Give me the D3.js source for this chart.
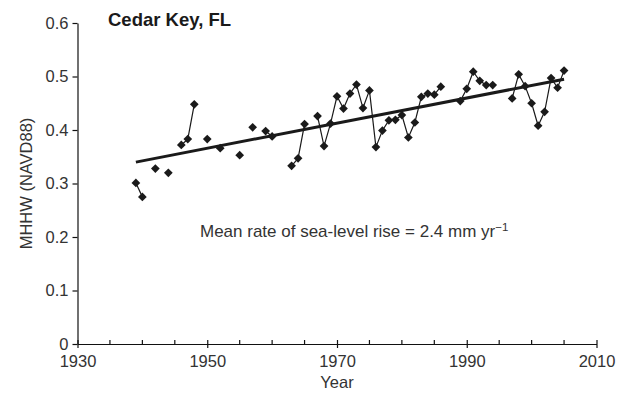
<!DOCTYPE html>
<html>
<head>
<meta charset="utf-8">
<script src="https://cdn.jsdelivr.net/npm/d3@7"></script>
<style>
  body { margin: 0; background: #fff; }
  svg { display: block; font-family: "Liberation Sans", Arial, sans-serif; }
  .axis path, .axis line { stroke: #111; stroke-width: 1.2; }
  .axis text { fill: #333; font-size: 16.5px; }
</style>
</head>
<body>
<svg width="626" height="400"></svg>
<script>
// MHHW observations, Cedar Key FL
const years = [1939, 1940, 1942, 1944, 1946, 1947, 1948, 1950, 1952, 1955,
  1957, 1959, 1960, 1963, 1964, 1965, 1967, 1968, 1969, 1970,
  1971, 1972, 1973, 1974, 1975, 1976, 1977, 1978, 1979, 1980,
  1981, 1982, 1983, 1984, 1985, 1986, 1989, 1990, 1991, 1992,
  1993, 1994, 1997, 1998, 1999, 2000, 2001, 2002, 2003, 2004, 2005]
const mhhw = [0.301, 0.275, 0.328, 0.320, 0.372, 0.383, 0.448, 0.383, 0.366, 0.353,
  0.405, 0.398, 0.388, 0.333, 0.347, 0.411, 0.426, 0.370, 0.412, 0.463,
  0.440, 0.468, 0.485, 0.441, 0.474, 0.368, 0.399, 0.418, 0.419, 0.428,
  0.386, 0.414, 0.462, 0.468, 0.466, 0.481, 0.454, 0.477, 0.509, 0.492,
  0.484, 0.484, 0.459, 0.504, 0.482, 0.450, 0.408, 0.434, 0.497, 0.479, 0.511]

// fitted trend line end points
const trendYears  = [1939, 2005]
const trendValues = [0.340, 0.495]

const xTicks      = [1930, 1950, 1970, 1990, 2010]
const xMinorTicks = d3.range(1935, 2010, 5).filter(d => !xTicks.includes(d))
const yTicks      = [0, 0.1, 0.2, 0.3, 0.4, 0.5, 0.6]

const svg = d3.select("svg")
const x = d3.scaleLinear().domain([1930, 2010]).range([77.5, 596.5])
const y = d3.scaleLinear().domain([0, 0.6]).range([344, 23])

const points = years.map((yr, i) => ({ year: yr, value: mhhw[i] }))

// axes
svg.append("g")
  .attr("class", "axis")
  .attr("transform", "translate(77.5,0)")
  .call(d3.axisLeft(y).tickValues(yTicks).tickSize(5).tickSizeOuter(0).tickPadding(4)
    .tickFormat(d => d === 0 ? "0" : d3.format(".1f")(d)))

const xAxis = svg.append("g")
  .attr("class", "axis")
  .attr("transform", "translate(0,344)")
  .call(d3.axisBottom(x).tickValues(xTicks).tickSize(4).tickSizeOuter(0).tickPadding(5)
    .tickFormat(d3.format("d")))
xAxis.selectAll(".tick line").attr("y1", -4)
xAxis.selectAll(".tick text").attr("dy", "0.85em")

svg.append("g")
  .selectAll("line")
  .data(xMinorTicks)
  .join("line")
  .attr("x1", d => x(d)).attr("x2", d => x(d))
  .attr("y1", 344).attr("y2", 340)
  .attr("stroke", "#111").attr("stroke-width", 1.2)

// axis titles
svg.append("text")
  .attr("x", (x.range()[0] + x.range()[1]) / 2)
  .attr("y", 388)
  .attr("text-anchor", "middle")
  .attr("fill", "#333")
  .attr("font-size", 16.5)
  .text("Year")

svg.append("text")
  .attr("transform", `translate(32,${(y.range()[0] + y.range()[1]) / 2}) rotate(-90)`)
  .attr("text-anchor", "middle")
  .attr("fill", "#333")
  .attr("font-size", 16.5)
  .text("MHHW (NAVD88)")

svg.append("text")
  .attr("x", 108)
  .attr("y", 26)
  .attr("fill", "#1a1a1a")
  .attr("font-size", 18.5)
  .attr("font-weight", "bold")
  .text("Cedar Key, FL")

const note = svg.append("text")
  .attr("x", 200)
  .attr("y", 237)
  .attr("fill", "#333")
  .attr("font-size", 17)
note.append("tspan").text("Mean rate of sea-level rise = 2.4 mm yr")
note.append("tspan").attr("dy", -6).attr("font-size", 11.5).text("\u22121")

// thin lines join consecutive years only
const line = d3.line()
  .x(d => x(d.year)).y(d => y(d.value))
let runs = [], cur = []
points.forEach((p, i) => {
  if (i > 0 && p.year - points[i - 1].year !== 1) { runs.push(cur); cur = [] }
  cur.push(p)
})
runs.push(cur)
svg.append("g")
  .selectAll("path")
  .data(runs.filter(r => r.length > 1))
  .join("path")
  .attr("d", line)
  .attr("fill", "none")
  .attr("stroke", "#1a1a1a")
  .attr("stroke-width", 1.2)

// trend
svg.append("path")
  .datum(trendYears.map((yr, i) => ({ year: yr, value: trendValues[i] })))
  .attr("d", line)
  .attr("fill", "none")
  .attr("stroke", "#1a1a1a")
  .attr("stroke-width", 3)

// diamond markers
svg.append("g")
  .selectAll("path")
  .data(points)
  .join("path")
  .attr("transform", d => `translate(${x(d.year)},${y(d.value)}) rotate(45)`)
  .attr("d", d3.symbol(d3.symbolSquare, 38))
  .attr("fill", "#1a1a1a")
</script>
</body>
</html>
